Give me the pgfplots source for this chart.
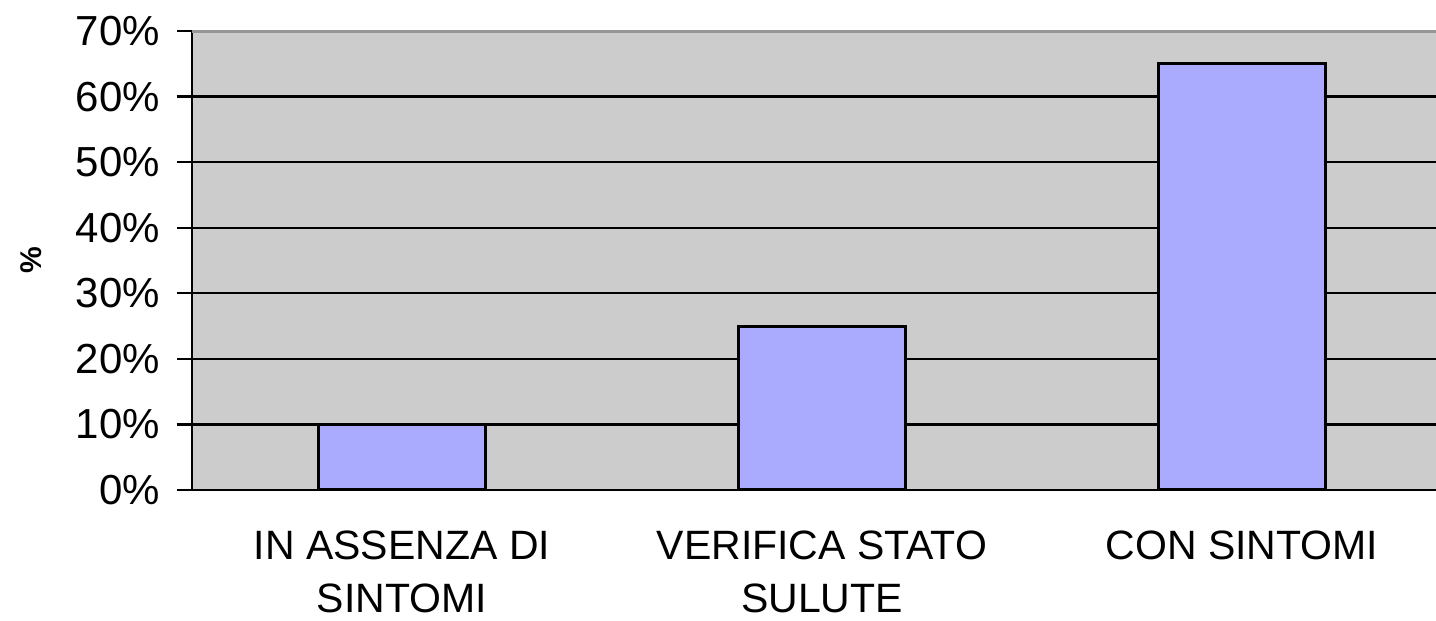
\documentclass[border=0pt]{standalone}
\usepackage{pgfplots}
\pgfplotsset{compat=1.18}
\usepackage{fontspec}
\setmainfont{Liberation Sans}
\definecolor{plotbg}{RGB}{204,204,204}
\definecolor{barfill}{RGB}{170,170,255}
\definecolor{topline}{RGB}{150,150,150}
\begin{document}
\begin{tikzpicture}
\begin{axis}[
    scale only axis,
    width=622pt, height=229.5pt,
    xmin=-0.5, xmax=2.462,
    ymin=0, ymax=70,
    axis background/.style={fill=plotbg},
    axis x line*=bottom, axis y line*=left,
    axis line style={line width=1.2pt, black},
    ybar, bar width=83.5pt,
    ytick={0,10,...,70},
    yticklabels={0\%,10\%,20\%,30\%,40\%,50\%,60\%,70\%},
    ymajorgrids,
    grid style={line width=1.2pt, black},
    tick align=outside,
    major tick length=7.5pt,
    tick style={line width=1.2pt, black},
    xtick={0,1,2},
    xticklabels={{IN ASSENZA DI\\SINTOMI},{VERIFICA STATO\\SULUTE},{CON SINTOMI}},
    x tick style={draw=none},
    extra x ticks={-0.5,0.5,1.5},
    extra x tick labels={},
    extra x tick style={grid=none, tick style={draw=black, line width=1.2pt}},
    xticklabel style={font=\fontsize{20.5}{26.5}\selectfont, align=center, anchor=north, yshift=-9.5pt},
    yticklabel style={font=\fontsize{21}{26}\selectfont, xshift=-5pt},
    ylabel={\textbf{\%}},
    ylabel style={font=\fontsize{15}{17}\selectfont},
    every axis y label/.append style={at={(rel axis cs:0,0.5)}, anchor=center, yshift=80.5pt},
    clip=false,
]
\addplot[fill=barfill, draw=black, line width=1.5pt] coordinates {(0,10) (1,25) (2,65)};
\draw[topline, line width=1.5pt] (rel axis cs:0,1) -- (rel axis cs:1,1);
\end{axis}
\pgfresetboundingbox
\path[use as bounding box] (-96pt,-65.5pt) rectangle (622pt,245pt);
\end{tikzpicture}
\end{document}
